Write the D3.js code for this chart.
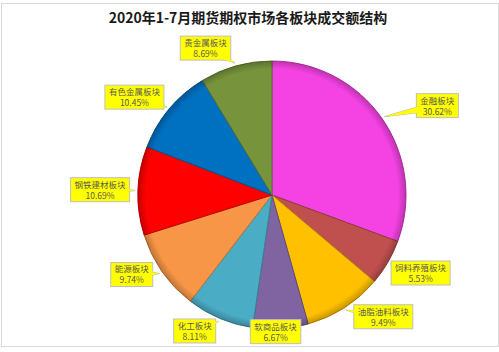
<!DOCTYPE html>
<html>
<head>
<meta charset="utf-8">
<style>
  body { margin: 0; background: #fff; }
  svg { display: block; font-family: "Noto Sans CJK SC", "Noto Sans", sans-serif; }
</style>
</head>
<body>
<svg width="499" height="352"></svg>
<script src="https://d3js.org/d3.v7.min.js"></script>
<script>
// 数据
var categories = ['金融板块', '饲料养殖板块', '油脂油料板块', '软商品板块', '化工板块',
                  '能源板块', '钢铁建材板块', '有色金属板块', '贵金属板块'];
var shares = [30.62, 5.53, 9.49, 6.67, 8.11, 9.74, 10.69, 10.45, 8.69];
var colors = ['#f542e3', '#c0504d', '#ffc000', '#8064a2', '#4bacc6',
              '#f79646', '#ff0000', '#0070c0', '#77933c'];
var title = '2020年1-7月期货期权市场各板块成交额结构';

var svg = d3.select('svg');
var cx = 272, cy = 195, r = 134;

// 边缘略暗的渐变，模仿斜面效果
var defs = svg.append('defs');
var grad = defs.append('radialGradient').attr('id', 'bevel')
  .attr('gradientUnits', 'userSpaceOnUse')
  .attr('cx', 0).attr('cy', 0).attr('r', r);
grad.append('stop').attr('offset', '0.94').attr('stop-color', '#000').attr('stop-opacity', 0);
grad.append('stop').attr('offset', '1').attr('stop-color', '#000').attr('stop-opacity', 0.22);

// 外框
svg.append('rect')
  .attr('x', 1.5).attr('y', 3.5)
  .attr('width', 497).attr('height', 343)
  .attr('fill', 'none').attr('stroke', '#d9d9d9');

svg.append('text')
  .attr('x', 248).attr('y', 23)
  .attr('text-anchor', 'middle')
  .attr('font-size', 14).attr('font-weight', 'bold')
  .attr('fill', '#1a1a1a')
  .text(title);

var data = categories.map(function (c, i) {
  return { name: c, value: shares[i], color: colors[i] };
});

var pie = d3.pie().sort(null).value(function (d) { return d.value; });
var arcs = pie(data);
var arc = d3.arc().innerRadius(0).outerRadius(r);

var g = svg.append('g').attr('transform', 'translate(' + cx + ',' + cy + ')');

g.selectAll('path.slice')
  .data(arcs)
  .enter().append('path')
  .attr('class', 'slice')
  .attr('d', arc)
  .attr('fill', function (d) { return d.data.color; })
  .attr('stroke', function (d) { return d3.color(d.data.color).darker(0.8); })
  .attr('stroke-width', 1);

g.append('circle').attr('r', r).attr('fill', 'url(#bevel)').attr('pointer-events', 'none');

// 标签位置：沿中角放在 165 半径处，再微调
var labelNudge = [[30, 5], [6, -5], [22, -17], [-7, -28], [-13, -16],
                  [-5, -15], [-7, 0], [-11, 8], [-22, 12]];
var labels = svg.append('g');

arcs.forEach(function (d, i) {
  var mid = (d.startAngle + d.endAngle) / 2;
  var tipX = cx + Math.sin(mid) * (r + 3), tipY = cy - Math.cos(mid) * (r + 3);
  var lx = cx + Math.sin(mid) * 165 + labelNudge[i][0];
  var ly = cy - Math.cos(mid) * 165 + labelNudge[i][1];

  var lg = labels.append('g');
  var t1 = lg.append('text').attr('x', lx).attr('y', ly - 2)
    .attr('text-anchor', 'middle').attr('font-size', 8.5).attr('fill', '#595959')
    .text(d.data.name);
  var t2 = lg.append('text').attr('x', lx).attr('y', ly + 9)
    .attr('text-anchor', 'middle').attr('font-size', 8.5).attr('fill', '#595959')
    .text(d.data.value.toFixed(2) + '%');
  var w = Math.max(t1.node().getComputedTextLength(), t2.node().getComputedTextLength()) + 8;
  var h = 24;
  var bx = lx - w / 2, by = ly - h / 2;

  // 指针：从框中心朝扇区方向
  var ang = Math.atan2(tipY - ly, tipX - lx);
  var px = -Math.sin(ang) * 4, py = Math.cos(ang) * 4;
  var baseX = lx + Math.cos(ang) * Math.min(w, h) * 0.3;
  var baseY = ly + Math.sin(ang) * Math.min(w, h) * 0.3;
  var tri = [[baseX + px, baseY + py], [tipX, tipY], [baseX - px, baseY - py]];

  lg.insert('polygon', 'text').attr('points', tri.join(' '))
    .attr('fill', '#ffff00').attr('stroke', '#bfbfbf').attr('stroke-width', 1);
  lg.insert('rect', 'text').attr('x', bx).attr('y', by).attr('width', w).attr('height', h)
    .attr('fill', '#ffff00').attr('stroke', '#bfbfbf').attr('stroke-width', 1);
  lg.insert('polygon', 'text').attr('points', tri.join(' '))
    .attr('fill', '#ffff00');
});
</script>
</body>
</html>
